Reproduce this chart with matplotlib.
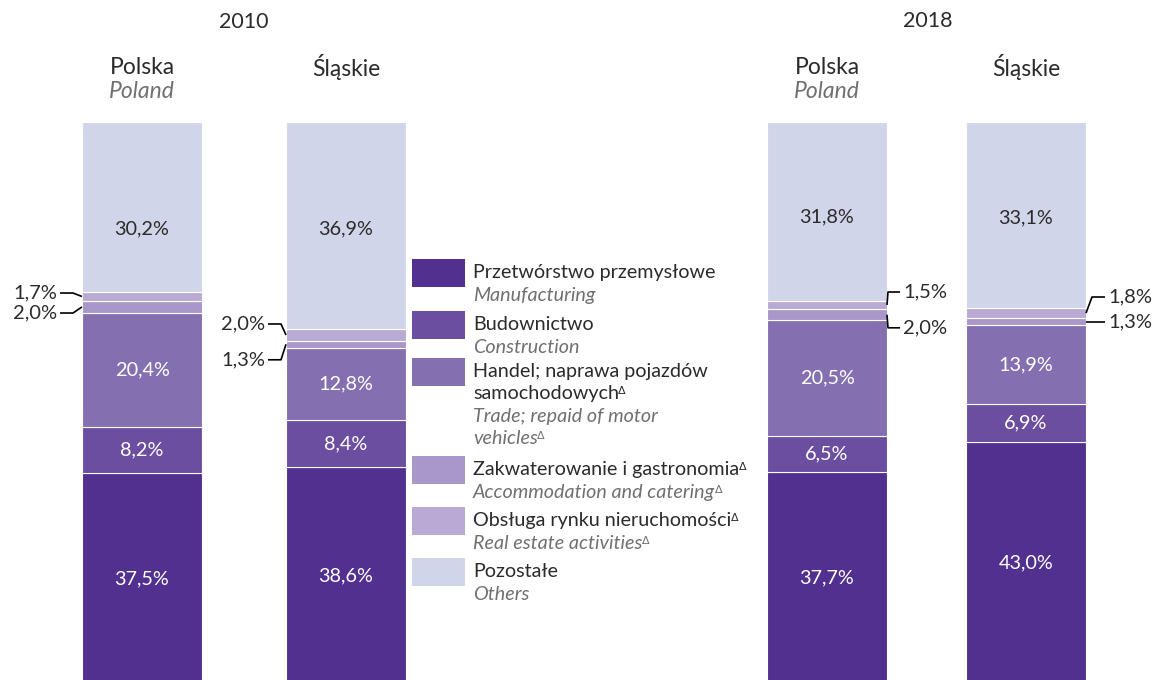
import matplotlib.pyplot as plt
import numpy as np
from matplotlib.patches import Rectangle

plt.rcParams['font.family'] = ['Lato', 'DejaVu Sans']

# dane: udział (%) sekcji w wartości dodanej brutto
bars = ['Polska 2010', 'Śląskie 2010', 'Polska 2018', 'Śląskie 2018']
przetworstwo = [37.5, 38.6, 37.7, 43.0]
budownictwo = [8.2, 8.4, 6.5, 6.9]
handel = [20.4, 12.8, 20.5, 13.9]
zakwaterowanie = [2.0, 1.3, 2.0, 1.3]
nieruchomosci = [1.7, 2.0, 1.5, 1.8]
pozostale = [30.2, 36.9, 31.8, 33.1]

series = [przetworstwo, budownictwo, handel, zakwaterowanie, nieruchomosci, pozostale]
colors = ['#52308f', '#6b4ea0', '#8470b0', '#a897c8', '#b9aad5', '#d0d5ea']

labels_pl = ['Przetwórstwo przemysłowe', 'Budownictwo',
             'Handel; naprawa pojazdów\nsamochodowych',
             'Zakwaterowanie i gastronomia', 'Obsługa rynku nieruchomości',
             'Pozostałe']
labels_en = ['Manufacturing', 'Construction', 'Trade; repaid of motor\nvehicles',
             'Accommodation and catering', 'Real estate activities', 'Others']
delta = [False, False, True, True, True, False]

years = ['2010', '2018']
col_pl = ['Polska', 'Śląskie', 'Polska', 'Śląskie']
col_en = ['Poland', '', 'Poland', '']

# układ (piksele)
W, H = 1160, 680
x_pos = [142, 346, 827, 1026]
bar_w = 120
px_per_pct = 5.62
top_nudge = [22, 3, 6, 3]  # przesunięcie etykiet "Pozostałe" w dół (px)
gray = '#707070'
dark = '#2b2b2b'

fig = plt.figure(figsize=(W / 100, H / 100), dpi=100)
ax = fig.add_axes([0, -4 / H, 1, 100 * px_per_pct / H])
ax.set_xlim(0, W)
ax.set_ylim(0, 100)
ax.axis('off')

bottom = np.zeros(len(bars))
for i, (vals, c) in enumerate(zip(series, colors)):
    vals = np.array(vals)
    ax.bar(x_pos, vals, bottom=bottom, width=bar_w, color=c,
           edgecolor='white', linewidth=0.8)
    if i in (0, 1, 2, 5):
        for j, (x, v, b) in enumerate(zip(x_pos, vals, bottom)):
            y = b + v / 2
            if i == 5:
                y -= top_nudge[j] / px_per_pct
            ax.text(x, y, f'{v:.1f}%'.replace('.', ','),
                    ha='center', va='center', fontsize=14.3,
                    color=dark if i == 5 else 'white')
    bottom += vals

# etykiety małych segmentów z odnośnikami
# (strona, odsunięcie łamania, koniec linii, przesunięcie etykiet w % [górna, dolna])
leaders = [(-1, 9, 22, [0.62, -1.09]),
           (-1, 5, 18, [1.96, -2.76]),
           (1, 1, 13, [2.3, -2.32]),
           (1, 6, 19, [2.86, 0.0])]
cum = np.cumsum(np.array(series), axis=0)
for j, (side, d1, d2, offs) in enumerate(leaders):
    edge = x_pos[j] + side * bar_w / 2
    for idx, off in [(4, offs[0]), (3, offs[1])]:
        v = series[idx][j]
        yc = cum[idx][j] - v / 2
        yl = yc + off
        ax.plot([edge, edge + side * d1, edge + side * d2], [yc, yl, yl],
                color='black', lw=1.2, solid_capstyle='butt')
        ax.text(edge + side * (d2 + 3), yl, f'{v:.1f}%'.replace('.', ','),
                ha='left' if side > 0 else 'right', va='center',
                fontsize=14.5, color=dark)

# nagłówki i legenda w pikselach
lax = fig.add_axes([0, 0, 1, 1])
lax.set_xlim(0, W)
lax.set_ylim(H, 0)
lax.axis('off')

lax.text(244, 22, years[0], ha='center', va='center', fontsize=15.5, color=dark)
lax.text(928, 21, years[1], ha='center', va='center', fontsize=15.5, color=dark)
for x, pl, en in zip(x_pos, col_pl, col_en):
    lax.text(x, 67, pl, ha='center', va='center', fontsize=16.5, color=dark)
    if en:
        lax.text(x, 91, en, ha='center', va='center', fontsize=16.5,
                 style='italic', color=gray)


def add_delta(txt, color):
    lax.annotate('Δ', xy=(1, 1), xycoords=txt, xytext=(-0.5, -1),
                 textcoords='offset points', ha='left', va='top',
                 fontsize=8, color=color, family='DejaVu Sans')


tops = [259, 311, 358, 456, 507, 558]
for top, c, pl, en, d in zip(tops, colors, labels_pl, labels_en, delta):
    lax.add_patch(Rectangle((412, top), 53, 28, color=c, lw=0))
    y = top + 19
    lines = [(s, False) for s in pl.split('\n')] + [(s, True) for s in en.split('\n')]
    n_pl = len(pl.split('\n'))
    for li, (s, is_en) in enumerate(lines):
        t = lax.text(473, y, s, ha='left', va='baseline', fontsize=14.2,
                     color=gray if is_en else dark,
                     style='italic' if is_en else 'normal')
        if d and (li == n_pl - 1 or li == len(lines) - 1):
            add_delta(t, gray if is_en else dark)
        y += 23 if li == n_pl - 1 else 22

fig.savefig('out.png', dpi=100)
